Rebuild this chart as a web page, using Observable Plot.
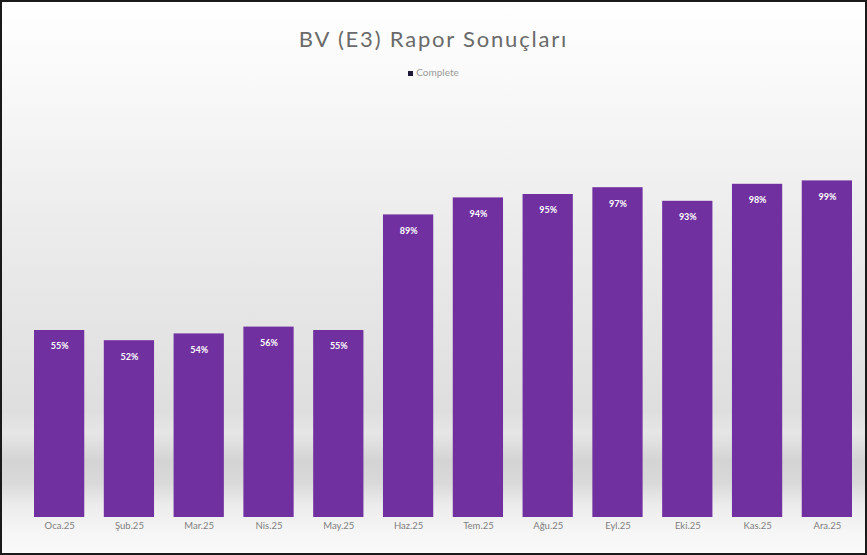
<!DOCTYPE html>
<html>
<head>
<meta charset="utf-8">
<script src="https://cdn.jsdelivr.net/npm/d3@7"></script>
<script src="https://cdn.jsdelivr.net/npm/@observablehq/plot@0.6"></script>
<style>
  html, body { margin: 0; padding: 0; background: #fff; }
  #wrap {
    position: relative; width: 867px; height: 555px; overflow: hidden;
    background: linear-gradient(to bottom, #ffffff 0%, #f9f9f9 15%, #ececec 40%, #e2e2e2 65%, #dedede 74%, #e6e6e6 78%, #d4d4d4 83%, #d9d9d9 87%, #ececec 91%, #f6f6f6 96%, #fafafa 100%);
    font-family: Lato, "Open Sans", sans-serif;
  }
  #border { position: absolute; inset: 0; box-shadow: inset 0 0 0 2px #1a1a1a; pointer-events: none; z-index: 5; }
  #title { position: absolute; left: 0; width: 867px; top: 26px; text-align: center; font-size: 22px; letter-spacing: 1.8px; color: #6a6a6a; line-height: 26px; z-index: 2; }
  #legend { position: absolute; left: 0; width: 867px; top: 66px; text-align: center; font-size: 10px; color: #9a9a9a; z-index: 2; }
  #legend .sw { display: inline-block; width: 5px; height: 5px; background: #1f1a3a; margin-right: 3px; vertical-align: middle; }
  #chart { position: absolute; left: 0; top: 0; }
  #chart svg { background: transparent !important; }
</style>
</head>
<body>
<div id="wrap">
  <div id="title">BV (E3) Rapor Sonuçları</div>
  <div id="legend"><span class="sw"></span><span>Complete</span></div>
  <div id="chart"></div>
  <div id="border"></div>
</div>
<script>
const months = ["Oca.25", "Şub.25", "Mar.25", "Nis.25", "May.25", "Haz.25", "Tem.25", "Ağu.25", "Eyl.25", "Eki.25", "Kas.25", "Ara.25"];
const complete = [55, 52, 54, 56, 55, 89, 94, 95, 97, 93, 98, 99];

const data = months.map((m, i) => ({month: m, value: complete[i]}));

const chart = Plot.plot({
  width: 867,
  height: 555,
  marginLeft: 34,
  marginRight: 15,
  marginTop: 177,
  marginBottom: 38,
  style: {background: "transparent", fontFamily: "Lato, 'Open Sans', sans-serif"},
  x: {domain: months, paddingInner: 0.28, paddingOuter: 0, round: false, label: null, tickSize: 0},
  y: {domain: [0, 100], axis: null},
  marks: [
    Plot.barY(data, {x: "month", y: "value", fill: "#7030a0"}),
    Plot.text(data, {x: "month", y: "value", text: d => d.value + "%", dy: 16, fill: "#ffffff", fontWeight: "bold", fontSize: 9}),
    Plot.axisX({tickSize: 0, tickPadding: 5, fontSize: 9.5, color: "#7f7f7f", label: null})
  ]
});
document.getElementById("chart").appendChild(chart);
</script>
</body>
</html>
